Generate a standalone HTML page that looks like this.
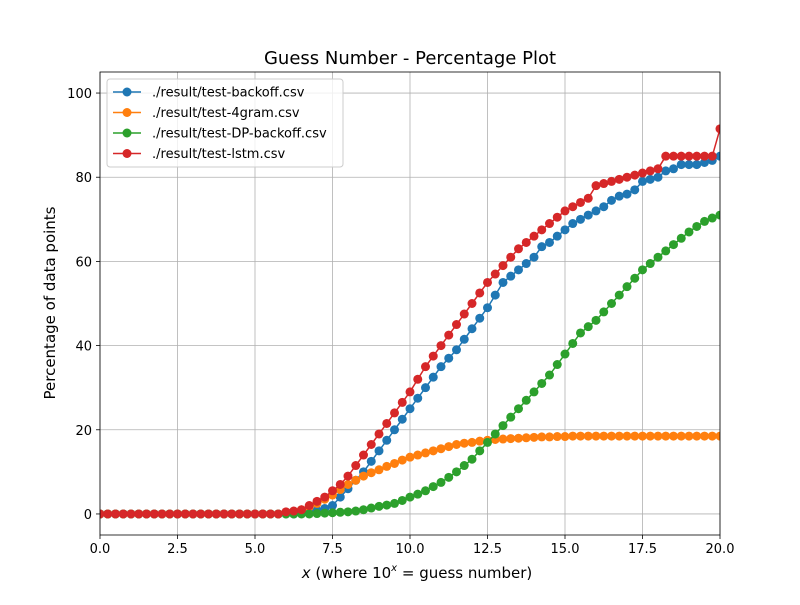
<!DOCTYPE html>
<html><head><meta charset="utf-8"><style>
body{margin:0;background:#fff;font-family:"Liberation Sans","DejaVu Sans",sans-serif}
svg text{font-family:"DejaVu Sans","Liberation Sans",sans-serif}
</style></head><body>
<svg id="c" width="800" height="600" xmlns="http://www.w3.org/2000/svg"></svg>
<script>
const xValues=[];for(let i=0;i<=80;i++)xValues.push(i/4);
const seriesNames=["./result/test-backoff.csv","./result/test-4gram.csv","./result/test-DP-backoff.csv","./result/test-lstm.csv"];
const backoff=[0,0,0,0,0,0,0,0,0,0,0,0,0,0,0,0,0,0,0,0,0,0,0,0,0,0,
0.2,0.5,0.8,1.3,2,4,6,8,10,12.5,15,17.5,20,22.5,25,27.5,30,32.5,35,37,39,41.5,44,46.5,49,52,55,56.5,58,59.5,61,63.5,64.5,66,67.5,69,70,71,72,73,74.5,75.5,76,77,79,79.5,80,81.5,82,83,83,83,83.5,84,85];
const fourgram=[0,0,0,0,0,0,0,0,0,0,0,0,0,0,0,0,0,0,0,0,0,0,0,0,
0.3,0.6,1,1.7,2.5,3.5,4.5,5.8,7,8,9,9.8,10.5,11.3,12,12.8,13.5,14,14.5,15,15.5,16,16.5,16.8,17,17.3,17.5,17.7,17.8,17.9,18,18.1,18.2,18.3,18.3,18.4,18.4,
18.5,18.5,18.5,18.5,18.5,18.5,18.5,18.5,18.5,18.5,18.5,18.5,18.5,18.5,18.5,18.5,18.5,18.5,18.5,18.5];
const dpBackoff=[0,0,0,0,0,0,0,0,0,0,0,0,0,0,0,0,0,0,0,0,0,0,0,0,0,0,0,0,
0.1,0.2,0.3,0.4,0.5,0.7,1,1.4,1.8,2.1,2.5,3.2,4,4.7,5.5,6.5,7.5,8.7,10,11.5,13,15,17,19,21,23,25,27,29,31,33,35.5,38,40.5,43,44.5,46,48,50,52,54,56,58,59.5,61,62.5,64,65.5,67,68.3,69.5,70.3,71];
const lstm=[0,0,0,0,0,0,0,0,0,0,0,0,0,0,0,0,0,0,0,0,0,0,0,0,
0.5,0.7,1,2,3,4,5.5,7,9,11.5,14,16.5,19,21.5,24,26.5,29,32,35,37.5,40,42.5,45,47.5,50,52.5,55,57,59,61,63,64.5,66,67.5,69,70.5,72,73,74,75,78,78.5,79,79.5,80,80.5,81,81.5,82,85,85,85,85,85,85,85,91.5];
const xTicks=[0,2.5,5,7.5,10,12.5,15,17.5,20];
const xTickLabels=["0.0","2.5","5.0","7.5","10.0","12.5","15.0","17.5","20.0"];
const yTicks=[0,20,40,60,80,100];
const colors=["#1f77b4","#ff7f0e","#2ca02c","#d62728"];
const L=100,R=720,T=72,B=535;
const sx=v=>L+(v-0)/(20-0)*(R-L);
const sy=v=>B-(v+5)/(110)*(B-T);
const svg=document.getElementById('c');const NS="http://www.w3.org/2000/svg";
function mk(t,a,p){const e=document.createElementNS(NS,t);for(const k in a)e.setAttribute(k,a[k]);(p||svg).appendChild(e);return e;}
xTicks.forEach((t,i)=>{
 const g=mk('line',{x1:sx(t),x2:sx(t),y1:T,y2:B,stroke:'#b0b0b0','stroke-width':0.8});
 
 mk('line',{x1:sx(t),x2:sx(t),y1:B,y2:B+4,stroke:'#000','stroke-width':0.8});
 const tx=mk('text',{x:sx(t),y:B+18,'text-anchor':'middle','font-size':13});tx.textContent=xTickLabels[i];
 
});
yTicks.forEach(t=>{
 const g=mk('line',{x1:L,x2:R,y1:sy(t),y2:sy(t),stroke:'#b0b0b0','stroke-width':0.8});
 
 mk('line',{x1:L-4,x2:L,y1:sy(t),y2:sy(t),stroke:'#000','stroke-width':0.8});
 const tx=mk('text',{x:L-8,y:sy(t)+5,'text-anchor':'end','font-size':13});tx.textContent=t;
 
});
mk('clipPath',{id:'cp'});const cp=svg.lastChild;mk('rect',{x:L,y:T,width:R-L,height:B-T},cp);
const plot=mk('g',{'clip-path':'url(#cp)'});
[backoff,fourgram,dpBackoff,lstm].forEach((s,k)=>{
 const g=mk('g',{},plot);
 
 
 mk('polyline',{points:s.map((v,i)=>sx(xValues[i])+','+sy(v)).join(' '),fill:'none',stroke:colors[k],'stroke-width':1.5},g);
 s.forEach((v,i)=>{const c=mk('circle',{cx:sx(xValues[i]),cy:sy(v),r:4.5,fill:colors[k]},g);
  });
});
mk('rect',{x:L,y:T,width:R-L,height:B-T,fill:'none',stroke:'#000','stroke-width':0.8});
let t=mk('text',{x:410,y:64,'text-anchor':'middle','font-size':18});t.textContent='Guess Number - Percentage Plot';

t=mk('text',{x:417,y:578,'text-anchor':'middle','font-size':15});
t.innerHTML='<tspan font-style="italic">x</tspan> (where 10<tspan font-size="10" dy="-7" font-style="italic">x</tspan><tspan dy="7"> = guess number)</tspan>';

t=mk('text',{x:0,y:0,'text-anchor':'middle','font-size':15,transform:'translate(55,303) rotate(-90)'});t.textContent='Percentage of data points';

const lg=mk('g',{});
mk('rect',{x:107,y:79,width:236,height:88,rx:3,fill:'#fff','fill-opacity':0.8,stroke:'#ccc'},lg);
seriesNames.forEach((n,k)=>{
 const y=92+k*20.5;
 const e=mk('g',{},lg);
 mk('line',{x1:113,x2:141,y1:y,y2:y,stroke:colors[k],'stroke-width':1.5},e);
 mk('circle',{cx:127,cy:y,r:4.5,fill:colors[k]},e);
 const tx=mk('text',{x:152,y:y+4.5,'font-size':13},e);tx.textContent=n;
});
</script></body></html>
